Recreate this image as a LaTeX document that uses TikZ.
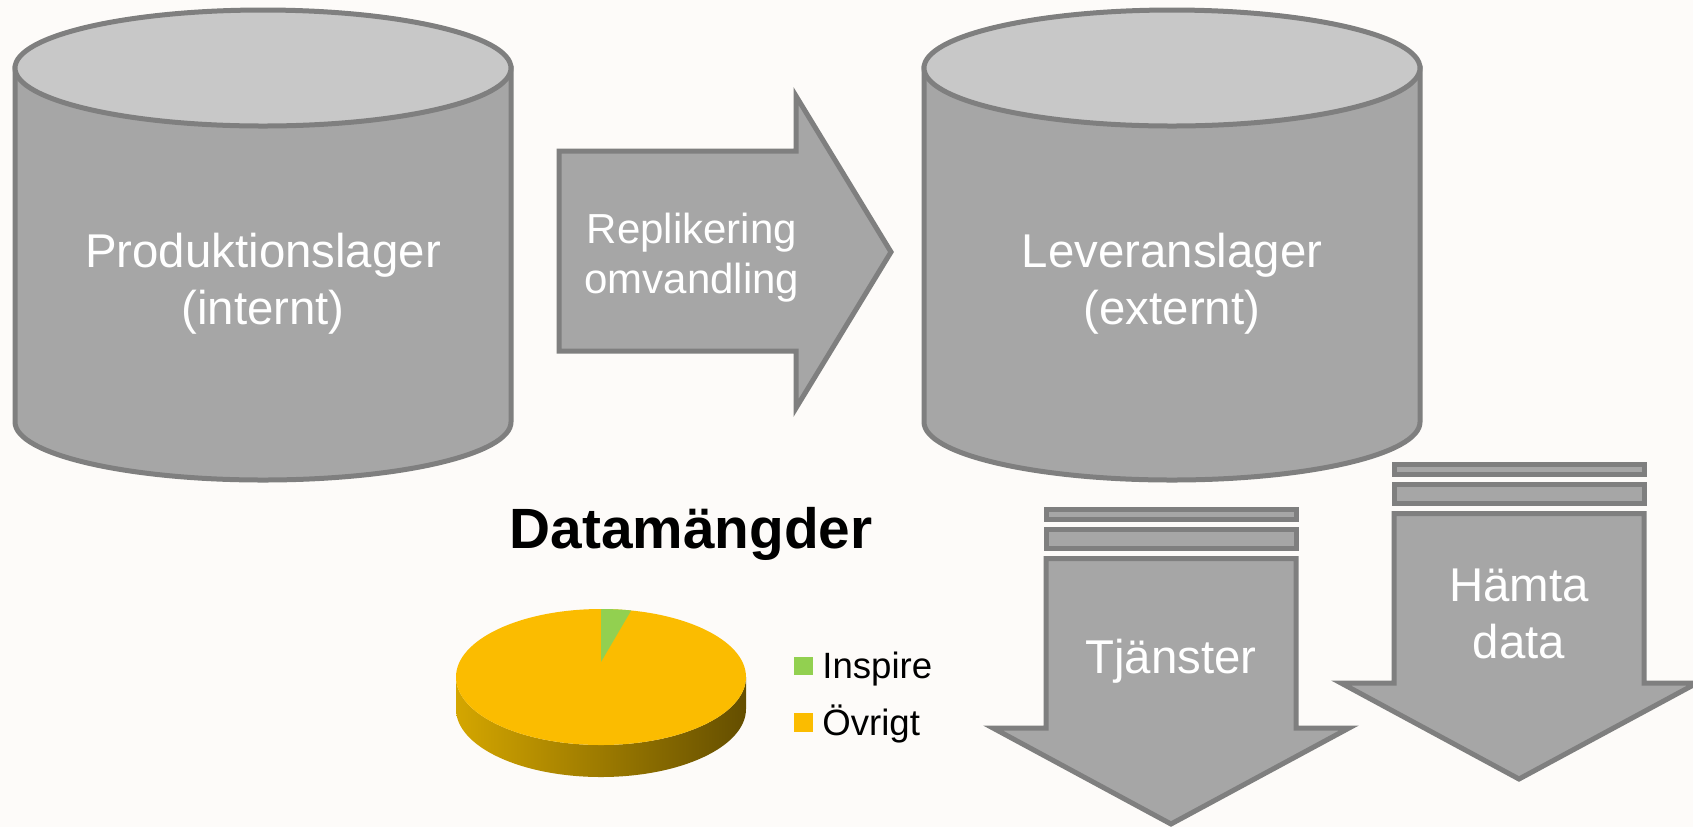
\documentclass[tikz,border=0pt]{standalone}
\usepackage{fontspec}
\setmainfont{Liberation Sans}
\definecolor{shapefill}{RGB}{166,166,166}
\definecolor{topfill}{RGB}{200,200,200}
\definecolor{edgegray}{RGB}{127,127,127}
\definecolor{piegold}{RGB}{251,188,0}
\definecolor{piegreen}{RGB}{146,208,80}
\definecolor{bgwhite}{RGB}{253,251,249}

\begin{document}
\begin{tikzpicture}[x=0.5pt,y=-0.5pt,
        grayshape/.style={fill=shapefill,draw=edgegray,line width=2.5pt,line join=miter},
        whitetext/.style={text=white,align=center,inner sep=0pt,font=\fontsize{23.7}{28.5}\selectfont},
        legendtext/.style={anchor=base west,inner sep=0pt,font=\fontsize{18.3}{22}\selectfont}]
    \useasboundingbox (0,0) rectangle (1693,827);
    \fill[bgwhite] (0,0) rectangle (1693,827);
    % cylinders
    \foreach \cx in {263, 1172} {
        \draw[grayshape] (\cx-248,68) -- (\cx-248,422) arc[start angle=180,end angle=0,x radius=248,y radius=58] -- (\cx+248,68) -- cycle;
        \draw[grayshape,fill=topfill] (\cx,68) ellipse[x radius=248,y radius=58];
    }
    \node[whitetext,anchor=base] (prod) at (263,324) {Produktionslager\\(internt)};
    \node[whitetext,anchor=base] (lev) at (1172,324) {Leveranslager\\(externt)};
    % replication arrow
    \draw[grayshape] (559,151) -- (796,151) -- (796,96) -- (891,252) -- (796,408) -- (796,351) -- (559,351) -- cycle;
    \node[whitetext,anchor=base,font=\fontsize{21}{25}\selectfont] (repl) at (692,293) {Replikering\\omvandling};
    % down arrows
    \foreach \cx/\ty in {1171/507, 1519/462} {
        \draw[grayshape] (\cx-125,\ty+2.5) rectangle (\cx+125,\ty+12.5);
        \draw[grayshape] (\cx-125,\ty+22.5) rectangle (\cx+125,\ty+41.5);
        \draw[grayshape] (\cx-125,\ty+51.5) -- (\cx+125,\ty+51.5) -- (\cx+125,\ty+221) -- (\cx+178,\ty+221)
            -- (\cx,\ty+317) -- (\cx-178,\ty+221) -- (\cx-125,\ty+221) -- cycle;
    }
    \node[whitetext,anchor=base] (tjanster) at (1171,673) {Tjänster};
    \node[whitetext,anchor=base] (hamta) at (1519,658) {Hämta\\data};
    % pie chart
    \node[anchor=base,inner sep=0pt,font=\bfseries\fontsize{28.4}{34}\selectfont] (title) at (691,548) {Datamängder};
    \shade[left color={rgb,255:red,212;green,166;blue,0},right color={rgb,255:red,100;green,78;blue,0}]
        (456,677) -- (456,709) arc[start angle=180,end angle=0,x radius=145,y radius=68]
        -- (746,677) arc[start angle=0,end angle=180,x radius=145,y radius=68] -- cycle;
    \fill[piegold] (601,677) ellipse[x radius=145,y radius=68];
    \fill[piegreen] (601,662) -- (601,609) arc[start angle=-90,end angle=-78,x radius=145,y radius=68] -- cycle;
    % legend
    \fill[piegreen] (794,657) rectangle (813,675);
    \node[legendtext] (inspire) at (822,678) {Inspire};
    \fill[piegold] (794,713) rectangle (813,732);
    \node[legendtext] (ovrigt) at (822,735) {Övrigt};
\end{tikzpicture}
\end{document}
